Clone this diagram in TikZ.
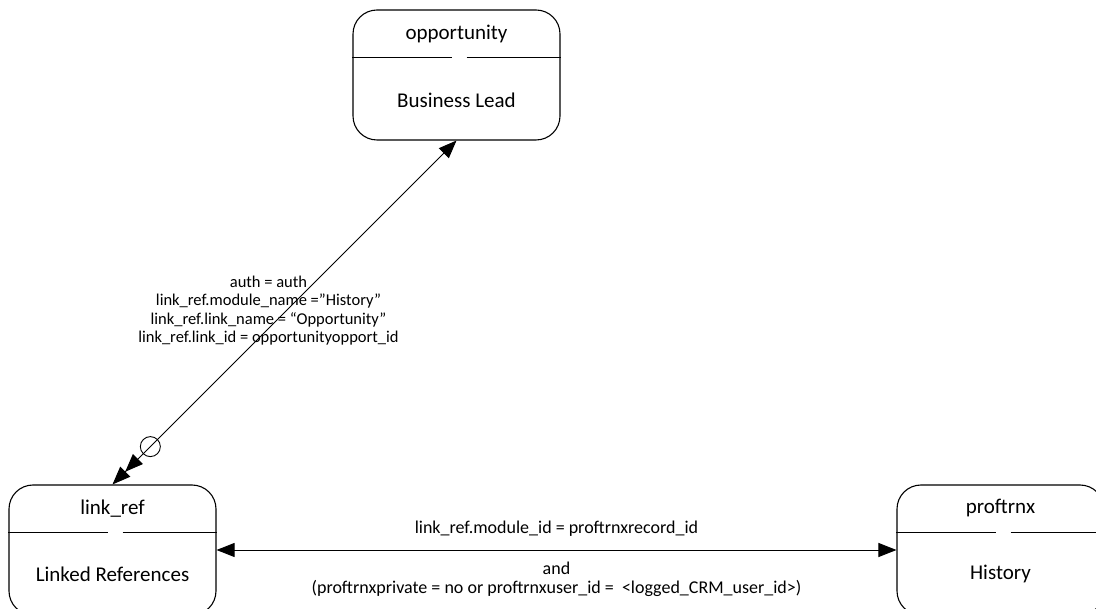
\documentclass[tikz,border=0pt]{standalone}
\usepackage{fontspec}
\setmainfont{Carlito}
\usetikzlibrary{positioning, arrows.meta}

\begin{document}
\begin{tikzpicture}[
  x=1pt, y=-1pt,
  >={Triangle[length=18pt, width=14pt]},
  entity/.style={draw, line width=1.1pt, rounded corners=24pt,
    minimum width=207pt, minimum height=130pt, inner sep=0pt},
  ename/.style={font=\fontsize{21}{25}\selectfont, inner sep=0pt},
  lbl/.style={font=\fontsize{16.5}{18.3}\selectfont, align=center, inner sep=0pt},
  hlbl/.style={lbl, font=\fontsize{18}{19}\selectfont},
  link/.style={line width=0.9pt},
]
  \useasboundingbox (0,0) rectangle (1096,609);

  \node[entity] (opp)  at (456.5,75)  {};
  \node[entity] (lnk)  at (112.5,550) {};
  \node[entity] (hist) at (1000.5,550) {};

  \node[ename] (oppt)  at ([yshift=-25pt]opp.north)  {opportunity};
  \node[ename] (oppb)  at ([yshift=-25pt]opp.center) {Business Lead};
  \node[ename] (lnkt)  at ([yshift=-24pt]lnk.north)  {link\_ref};
  \node[ename] (lnkb)  at ([yshift=-24pt]lnk.center) {Linked References};
  \node[ename] (histt) at ([yshift=-24pt]hist.north)  {proftrnx};
  \node[ename] (histb) at ([yshift=-24pt]hist.center) {History};

  % dividers, with the small gap
  \foreach \b in {opp, lnk, hist} {
    \draw[link] ([yshift=-48pt]\b.north west) -- ([xshift=-5pt, yshift=-48pt]\b.north);
    \draw[link] ([xshift=10pt, yshift=-48pt]\b.north) -- ([yshift=-48pt]\b.north east);
  }

  \draw[link, <->>] (opp.south) -- (lnk.north)
    node[pos=0.89, circle, draw, line width=0.9pt, minimum size=20pt, inner sep=0pt] (zc) {}
    node[lbl, pos=0.5, xshift=-16pt, yshift=2pt] (cond)
      {auth = auth\\link\_ref.module\_name =”History”\\link\_ref.link\_name = “Opportunity”\\link\_ref.link\_id = opportunityopport\_id};

  \draw[link, <->] (lnk) -- (hist)
    node[hlbl, midway, above=13pt] (hcond) {link\_ref.module\_id = proftrnxrecord\_id}
    node[hlbl, midway, below=12pt] (hand)
      {and\\(proftrnxprivate = no or proftrnxuser\_id =\ \ <logged\_CRM\_user\_id>)};
\end{tikzpicture}
\end{document}
